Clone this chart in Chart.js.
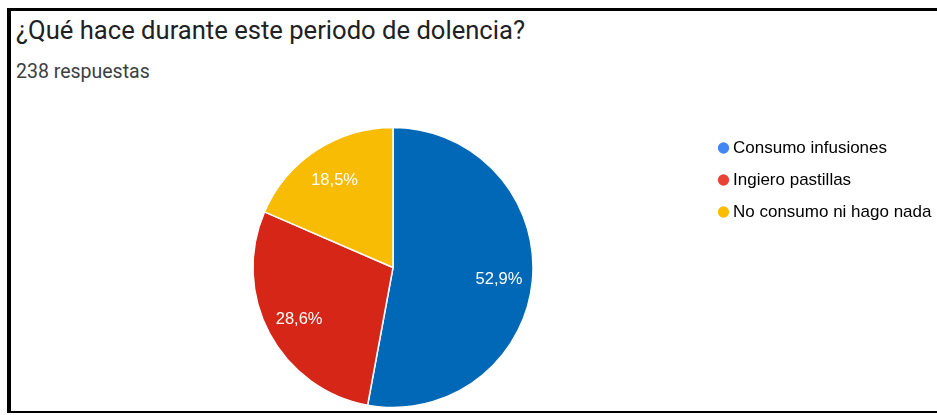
<!DOCTYPE html>
<html lang="es">
<head>
<meta charset="utf-8">
<script src="https://cdn.jsdelivr.net/npm/chart.js@4/dist/chart.umd.min.js"></script>
<style>
  html, body { margin: 0; padding: 0; background: #fff; }
  body { width: 937px; height: 415px; position: relative; overflow: hidden; }
  .frame {
    position: absolute; left: 7px; top: 8px; width: 940px; height: 405px;
    border-top: 3px solid #000; border-left: 4px solid #000; border-bottom: 2px solid #000;
    box-sizing: border-box;
  }
  .title {
    position: absolute; left: 16px; top: 18px; margin: 0;
    font: 400 25.6px/25px Roboto, "Noto Sans", sans-serif; color: #202124; white-space: nowrap;
  }
  .count {
    position: absolute; left: 16px; top: 62px; margin: 0;
    font: 400 19.5px/19px Roboto, "Noto Sans", sans-serif; color: #3c4043; white-space: nowrap;
  }
  #chart { position: absolute; left: 0; top: 0; }
</style>
</head>
<body>
<div class="frame"></div>
<h1 class="title" id="title"></h1>
<p class="count" id="count"></p>
<canvas id="chart" width="937" height="415"></canvas>
<script>
// Survey question, total answers and answer shares (percent)
const questionTitle = '¿Qué hace durante este periodo de dolencia?';
const totalResponses = 238;
const answers = ['Consumo infusiones', 'Ingiero pastillas', 'No consumo ni hago nada'];
const shares = [52.9, 28.6, 18.5];
const sliceColors = ['#0068b6', '#d62618', '#f9bc05'];
const legendDotColors = ['#4285f4', '#ea4335', '#fbbc04'];

document.getElementById('title').textContent = questionTitle;
document.getElementById('count').textContent = totalResponses + ' respuestas';

// Writes each slice's share in white inside the slice
const sliceLabels = {
  id: 'sliceLabels',
  afterDatasetsDraw(chart) {
    const meta = chart.getDatasetMeta(0);
    const values = chart.data.datasets[0].data;
    const ctx = chart.ctx;
    ctx.save();
    ctx.fillStyle = '#ffffff';
    ctx.font = '16.5px "Liberation Sans", Arial, sans-serif';
    ctx.textAlign = 'center';
    ctx.textBaseline = 'middle';
    meta.data.forEach((arc, i) => {
      const p = arc.getProps(['x', 'y', 'startAngle', 'endAngle', 'outerRadius'], true);
      const mid = (p.startAngle + p.endAngle) / 2;
      const r = p.outerRadius * 0.76;
      const text = values[i].toFixed(1).replace('.', ',') + '%';
      ctx.fillText(text, p.x + Math.cos(mid) * r, p.y + Math.sin(mid) * r + 2);
    });
    ctx.restore();
  }
};

new Chart(document.getElementById('chart'), {
  type: 'pie',
  data: {
    labels: answers,
    datasets: [{
      data: shares,
      backgroundColor: sliceColors,
      borderColor: '#ffffff',
      borderWidth: 1.5,
      radius: 140
    }]
  },
  options: {
    responsive: false,
    animation: false,
    layout: { padding: { top: 124.5, bottom: 4.5, left: 78.5, right: 0 } },
    plugins: {
      tooltip: { enabled: false },
      legend: {
        position: 'right',
        align: 'start',
        maxWidth: 229.5,
        labels: {
          usePointStyle: true,
          pointStyle: 'circle',
          boxWidth: 2,
          boxHeight: 8,
          padding: 15,
          color: '#222222',
          font: { family: '"Liberation Sans", Arial, sans-serif', size: 17 },
          generateLabels(chart) {
            return chart.data.labels.map((label, i) => ({
              text: label,
              fillStyle: legendDotColors[i],
              strokeStyle: legendDotColors[i],
              lineWidth: 0,
              pointStyle: 'circle',
              hidden: false,
              index: i
            }));
          }
        }
      }
    }
  },
  plugins: [sliceLabels]
});
</script>
</body>
</html>
